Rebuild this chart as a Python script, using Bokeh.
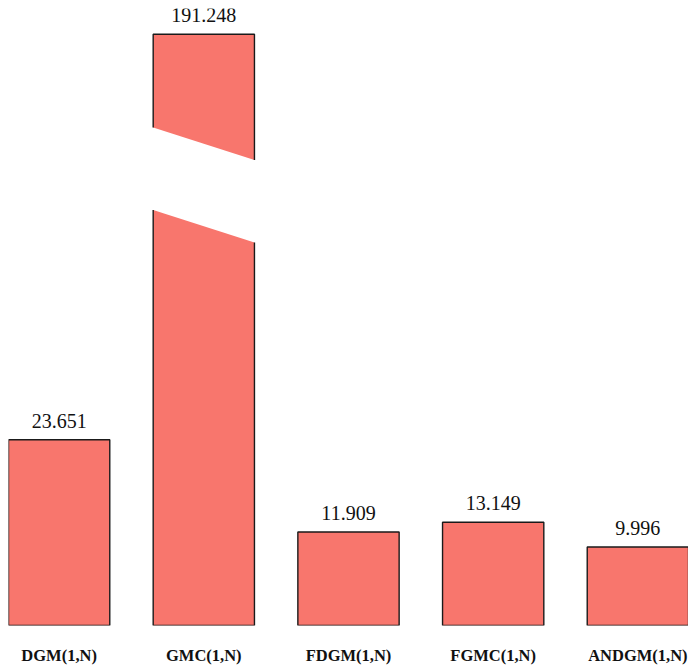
from bokeh.plotting import figure
from bokeh.models import ColumnDataSource, FixedTicker, Range1d
from bokeh.core.properties import value
from bokeh.embed import file_html
from bokeh.resources import INLINE

# ---- data ----
categories = ["DGM(1,N)", "GMC(1,N)", "FDGM(1,N)", "FGMC(1,N)", "ANDGM(1,N)"]
values = [23.651, 191.248, 11.909, 13.149, 9.996]
value_labels = ["23.651", "191.248", "11.909", "13.149", "9.996"]

# ---- axis break settings (value space) ----
BREAK_AT = 50.85      # lower segment ends here
BREAK_RESUME = 177.3  # upper segment resumes here
GAP = 10.5            # visual gap (display units)
SLANT = 2.08          # half-height of slanted cut

FILL = "#F8766D"
EDGE = "#1a1a1a"
BAR_W = 0.7


def to_display(v):
    if v <= BREAK_AT:
        return v
    return BREAK_AT + GAP + (v - BREAK_RESUME)


p = figure(width=688, height=667, output_backend="svg", toolbar_location=None,
           x_range=Range1d(-BAR_W / 2, len(categories) - 1 + BAR_W / 2),
           y_range=Range1d(0, 78.58),
           min_border_left=8, min_border_right=0, min_border_top=8, min_border_bottom=41)
p.outline_line_color = None
p.background_fill_color = "white"
p.border_fill_color = "white"
p.grid.visible = False
p.yaxis.visible = False

xs = list(range(len(categories)))
normal = [i for i, v in enumerate(values) if v <= BREAK_AT]
broken = [i for i, v in enumerate(values) if v > BREAK_AT]

src = ColumnDataSource(dict(x=[xs[i] for i in normal],
                            top=[values[i] for i in normal]))
p.vbar(x="x", top="top", bottom=0, width=BAR_W, source=src,
       fill_color=FILL, line_color=EDGE, line_width=1.4)

for i in broken:
    x0, x1 = xs[i] - BAR_W / 2, xs[i] + BAR_W / 2
    top = to_display(values[i])
    lo_l, lo_r = BREAK_AT + SLANT, BREAK_AT - SLANT
    up_l, up_r = BREAK_AT + GAP + SLANT, BREAK_AT + GAP - SLANT
    p.patches(xs=[[x0, x1, x1, x0], [x0, x1, x1, x0]],
              ys=[[0, 0, lo_r, lo_l], [up_l, up_r, top, top]],
              fill_color=FILL, line_color=None)
    p.multi_line(xs=[[x0, x0, x1, x1], [x0, x0, x1, x1]],
                 ys=[[lo_l, 0, 0, lo_r], [up_l, top, top, up_r]],
                 line_color=EDGE, line_width=1.4)

lab = ColumnDataSource(dict(x=xs, y=[to_display(v) for v in values], t=value_labels))
p.text(x="x", y="y", text="t", source=lab, text_align="center",
       text_baseline="alphabetic", y_offset=-19,
       text_font=value("Liberation Serif"), text_font_size="20px", text_color="#111111")

p.xaxis.ticker = FixedTicker(ticks=xs)
p.xaxis.major_label_overrides = {i: c for i, c in enumerate(categories)}
p.xaxis.axis_line_color = None
p.xaxis.major_tick_line_color = None
p.xaxis.minor_tick_line_color = None
p.xaxis.major_tick_out = 0
p.xaxis.major_tick_in = 0
p.xaxis.major_label_standoff = 20
p.xaxis.major_label_text_font = "Liberation Serif"
p.xaxis.major_label_text_font_style = "bold"
p.xaxis.major_label_text_font_size = "16.5px"
p.xaxis.major_label_text_color = "#111111"

open("out.html", "w").write(file_html(p, INLINE))
